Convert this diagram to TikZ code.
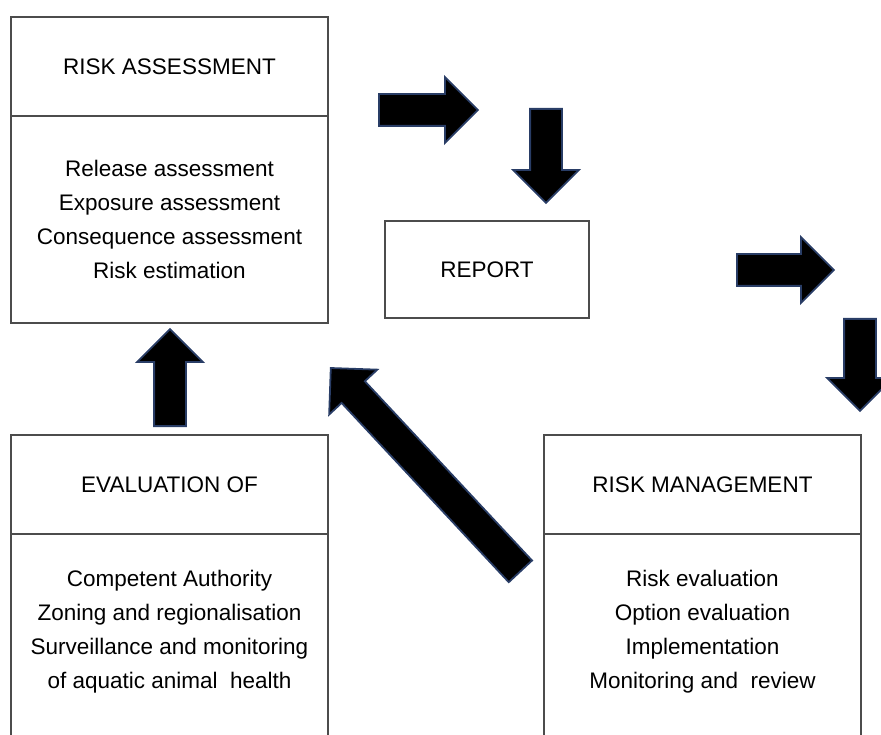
\documentclass[tikz,border=0pt]{standalone}
\usepackage{fontspec}
\setmainfont{Liberation Sans}
\usetikzlibrary{positioning,shapes.arrows}
\definecolor{boxline}{rgb}{0.3,0.3,0.3}
\definecolor{arrowedge}{rgb}{0.16,0.24,0.4}

\begin{document}
\begin{tikzpicture}[x=1pt, y=-1pt, font=\fontsize{22.5}{34}\selectfont,
	titlebox/.style = {shape=rectangle, draw=boxline, line width=1.2pt, outer sep=0pt, align=center, minimum width=317pt, minimum height=99pt},
	bodybox/.style = {shape=rectangle, draw=boxline, line width=1.2pt, outer sep=0pt, align=center, minimum width=317pt},
	itemlist/.style = {align=center, inner sep=0pt},
	blockarrow/.style = {single arrow, anchor=tail, draw=arrowedge, fill=black, line width=1.8pt, inner xsep=0pt, inner ysep=15pt, single arrow head extend=17pt, minimum width=1pt}]
	\useasboundingbox (0,0) rectangle (881,735);
	% top left
	\node[titlebox] (ratitle) at (169.5,66.5) {RISK ASSESSMENT};
	\node[bodybox, minimum height=207pt, below=0pt of ratitle] (rabody) {Release assessment\\ Exposure assessment\\ Consequence assessment\\ Risk estimation};
	% middle
	\node[titlebox, minimum width=204pt, minimum height=97pt] (report) at (487,269.5) {REPORT};
	% bottom left
	\node[titlebox] (evtitle) at (169.5,484.5) {EVALUATION OF};
	\node[bodybox, minimum height=260pt, below=0pt of evtitle] (evbody) {};
	\node[itemlist] (evitems) at (169.5,632) {Competent Authority\\ Zoning and regionalisation\\ Surveillance and monitoring\\ of aquatic animal\ \ health};
	% bottom right
	\node[titlebox] (rmtitle) at (702.5,484.5) {RISK MANAGEMENT};
	\node[bodybox, minimum height=260pt, below=0pt of rmtitle] (rmbody) {};
	\node[itemlist] (rmitems) at (702.5,632) {Risk evaluation\\ Option evaluation\\ Implementation\\ Monitoring and\ \ review};
	% arrows (placed by their tails)
	\node[blockarrow, minimum height=99pt] (arrowa) at (378,110) {};
	\node[blockarrow, minimum height=94pt, rotate=-90] (arrowb) at (546,108) {};
	\node[blockarrow, minimum height=97pt] (arrowc) at (736,270) {};
	\node[blockarrow, minimum height=92pt, rotate=-90] (arrowd) at (860,318) {};
	\node[blockarrow, minimum height=97pt, rotate=90] (arrowe) at (170,427) {};
	\node[blockarrow, minimum height=278pt, rotate=133] (arrowf) at (521,572) {};
\end{tikzpicture}
\end{document}
